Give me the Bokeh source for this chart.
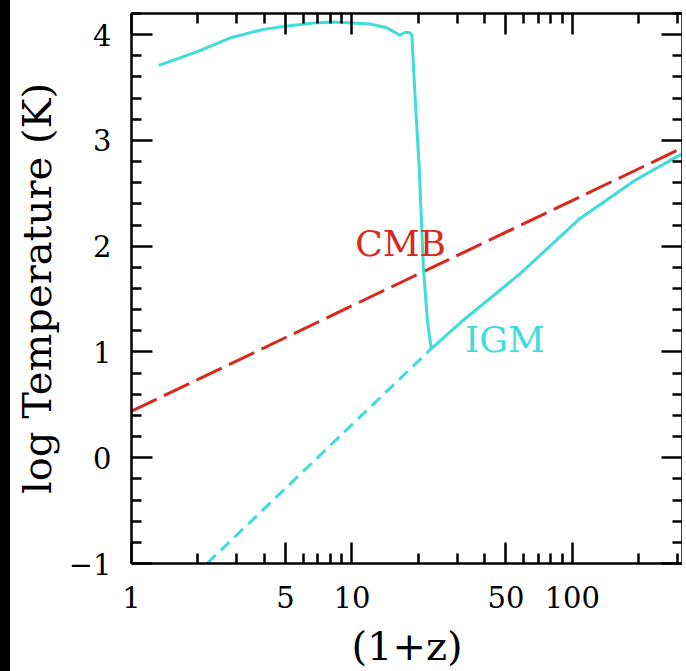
from bokeh.plotting import figure
from bokeh.models import FixedTicker, LogAxis, LinearAxis, Range1d, Div
from bokeh.layouts import row
from bokeh.embed import file_html
from bokeh.resources import INLINE
from bokeh.core.properties import value

# ---- data ----
# IGM temperature (solid cyan)
igm_x = [1.33, 1.99, 2.81, 3.98, 4.99, 6.7, 8.26, 10.0, 12.1, 14.4, 16.5, 17.4,
         18.2, 18.7, 19.4, 20.2, 21.1, 22.0, 22.9, 32.0, 58.0, 108.0, 195.0, 313.0]
igm_logT = [3.71, 3.84, 3.97, 4.05, 4.08, 4.11, 4.12, 4.11, 4.10, 4.065, 3.995, 4.02,
            4.02, 4.00, 3.37, 2.74, 1.80, 1.30, 1.03, 1.30, 1.74, 2.26, 2.63, 2.87]
# adiabatic extension without heating (dashed cyan)
adi_x = [2.2, 22.9]
adi_logT = [-1.0, 1.03]
# CMB temperature (dashed red)
cmb_x = [1.0, 316.2]
cmb_logT = [0.44, 2.93]

x_major = [1, 5, 10, 50, 100]
x_minor = [2, 3, 4, 6, 7, 8, 9, 20, 30, 40, 60, 70, 80, 90, 200, 300]
y_major = [-1, 0, 1, 2, 3, 4]
y_minor = [-0.8, -0.6, -0.4, -0.2, 0.2, 0.4, 0.6, 0.8, 1.2, 1.4, 1.6, 1.8,
           2.2, 2.4, 2.6, 2.8, 3.2, 3.4, 3.6, 3.8, 4.2]

CYAN = "#3fdcdc"
RED = "#d9281c"
FONT = "DejaVu Serif"

p = figure(x_axis_type="log", x_range=Range1d(1, 316.2), y_range=Range1d(-1, 4.2),
           frame_width=551, frame_height=550,
           min_border_left=121, min_border_top=13, min_border_right=0, min_border_bottom=10,
           output_backend="svg", toolbar_location=None,
           background_fill_color="white", border_fill_color="white")
p.outline_line_color = None
p.grid.visible = False

xt = FixedTicker(ticks=x_major, minor_ticks=x_minor)
yt = FixedTicker(ticks=y_major, minor_ticks=y_minor)

bottom = p.below[0]
left = p.left[0]
bottom.ticker = xt
left.ticker = yt

top = LogAxis(ticker=xt)
right = LinearAxis(ticker=yt)
top.major_label_overrides = {t: "" for t in x_major}
right.major_label_overrides = {t: "" for t in y_major}
p.add_layout(top, "above")
p.add_layout(right, "right")

for ax in [bottom, left, top, right]:
    ax.axis_line_width = 2.5
    ax.axis_line_color = "black"
    ax.major_tick_line_width = 2.5
    ax.minor_tick_line_width = 2.5
    ax.major_tick_in = 21
    ax.major_tick_out = 0
    ax.minor_tick_in = 10
    ax.minor_tick_out = 0
    ax.major_label_text_font = FONT
    ax.major_label_text_font_size = "29px"
    ax.major_label_text_color = "black"
    ax.axis_label_text_font = FONT
    ax.axis_label_text_font_style = "normal"
    ax.axis_label_text_color = "black"

for ax in [top, right]:
    ax.major_label_standoff = 0

bottom.major_label_overrides = {1: "1", 5: "5", 10: "10", 50: "50", 100: "100"}
bottom.major_label_standoff = 22
left.major_label_standoff = 20
bottom.axis_label = "(1+z)"
left.axis_label = "log Temperature (K)"
bottom.axis_label_text_font_size = "40px"
left.axis_label_text_font_size = "40px"
bottom.axis_label_standoff = 12
left.axis_label_standoff = 6

p.line(cmb_x, cmb_logT, line_color=RED, line_width=3, line_dash="28 8")
p.line(adi_x, adi_logT, line_color=CYAN, line_width=3, line_dash="12 7")
p.line(igm_x, igm_logT, line_color=CYAN, line_width=3)

p.text(x=[10.35], y=[2.025], text=["CMB"], text_font=value(FONT), text_font_size="36px",
       text_color=RED, text_baseline="middle", text_align="left")
p.text(x=[32.6], y=[1.117], text=["IGM"], text_font=value(FONT), text_font_size="36px",
       text_color=CYAN, text_baseline="middle", text_align="left")

# black strip along the left edge of the picture
strip = Div(width=10, height=671, styles={"background-color": "black"}, margin=0)
layout = row(strip, p, spacing=0)

open("out.html", "w").write(file_html(layout, INLINE))
